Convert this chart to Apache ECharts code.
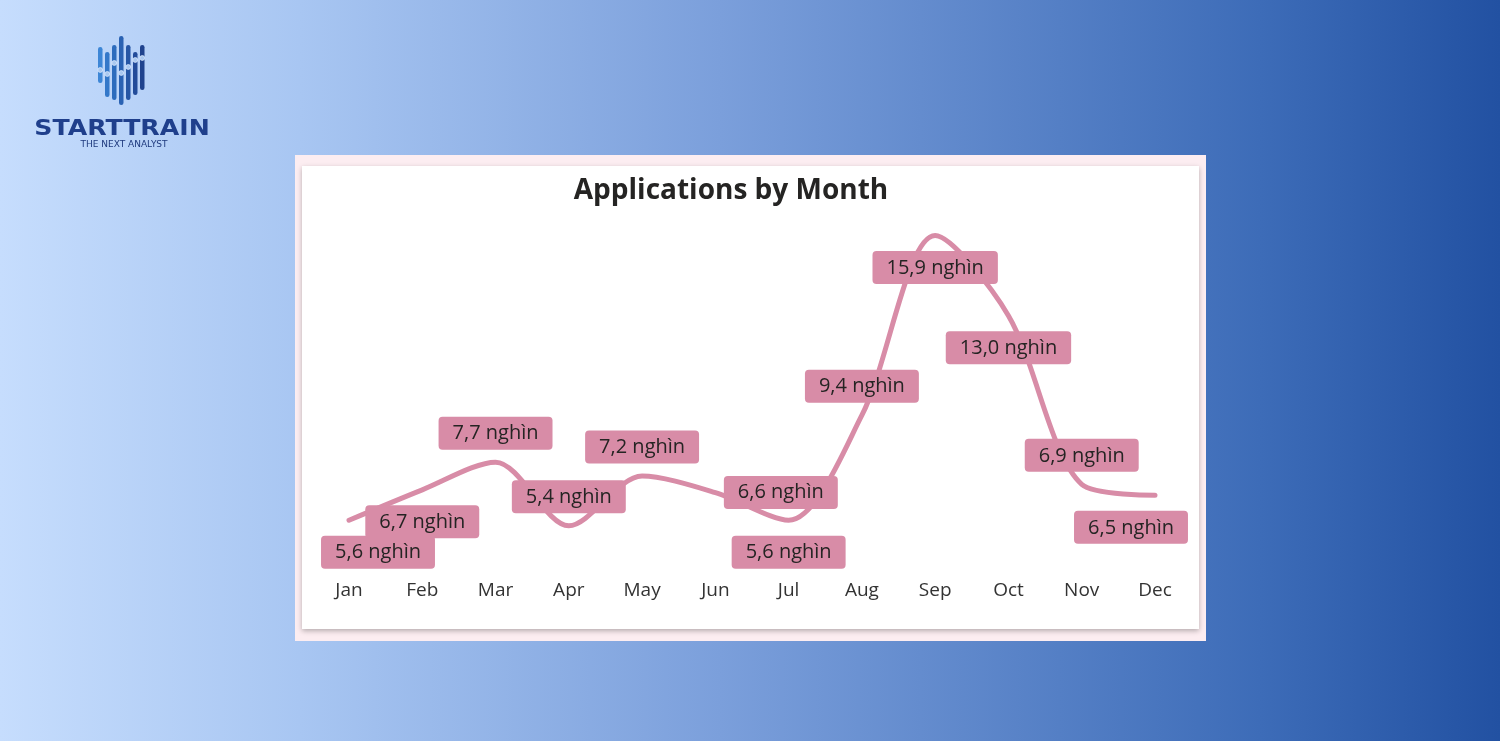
<!DOCTYPE html>
<html>
<head>
<meta charset="utf-8">
<script src="https://cdn.jsdelivr.net/npm/echarts@6/dist/echarts.min.js"></script>
<style>
html,body{margin:0;padding:0;width:1500px;height:741px;overflow:hidden;}
#c{width:1500px;height:741px;}
</style>
</head>
<body>
<div id="c"></div>
<script>
// ---- data ----
const months = ['Jan','Feb','Mar','Apr','May','Jun','Jul','Aug','Sep','Oct','Nov','Dec'];
const applications = [5.6, 6.7, 7.7, 5.4, 7.2, 6.6, 5.6, 9.4, 15.9, 13.0, 6.9, 6.5]; // thousands
const unitSuffix = ' nghìn';
const chartTitle = 'Applications by Month';

// ---- label placement (style config) ----
const labelPlace = [
  ['bottom', 29], ['bottom', 0], ['top', 0], ['top', 0], ['top', 0], ['right', 0],
  ['bottom', 0], ['top', 0], ['bottom', 0], ['bottom', 0], ['top', 0], ['bottom', -24]
];

const pink = '#d88ca7';
const seriesData = applications.map((v, i) => {
  const p = labelPlace[i];
  return {
    value: v,
    label: {
      position: p[0],
      distance: p[0] === 'right' ? 8 : (p[0] === 'top' ? 12 : 15)
    }
  };
});

// logo bars
const logoBars = [
  {x: 98, y1: 47, y2: 83, c: '#3d86d6', d: 70},
  {x: 105, y1: 52, y2: 97, c: '#3478c9', d: 74},
  {x: 112, y1: 45, y2: 100, c: '#2d6cbd', d: 63},
  {x: 119, y1: 36, y2: 105, c: '#2a62b3', d: 73},
  {x: 126, y1: 45, y2: 100, c: '#2656a5', d: 67},
  {x: 133, y1: 52, y2: 95, c: '#234c9a', d: 60},
  {x: 140, y1: 45, y2: 90, c: '#20438e', d: 58}
];
const logoEls = [];
logoBars.forEach(b => {
  logoEls.push({type:'rect', shape:{x:b.x, y:b.y1, width:4.5, height:b.y2-b.y1, r:2.2}, style:{fill:b.c}, z:1});
  logoEls.push({type:'circle', shape:{cx:b.x+2.25, cy:b.d, r:2.4}, style:{fill:'#a9c8f0', stroke:'#dbe9fb', lineWidth:0.8}, z:2});
});

const chart = echarts.init(document.getElementById('c'));
chart.setOption({
  backgroundColor: {
    type: 'linear', x: 0, y: 0, x2: 1, y2: 0,
    colorStops: [
      {offset: 0, color: '#c6ddfd'},
      {offset: 0.2, color: '#a8c6f2'},
      {offset: 0.48, color: '#7b9fdb'},
      {offset: 0.84, color: '#3d6cb8'},
      {offset: 1, color: '#2251a2'}
    ]
  },
  animation: false,
  graphic: [
    {type:'rect', shape:{x:295, y:155, width:911, height:486}, style:{fill:'#fcedf1'}, z:0},
    {type:'rect', shape:{x:302, y:166, width:897, height:463}, style:{fill:'#ffffff', shadowBlur:5, shadowColor:'rgba(0,0,0,0.28)', shadowOffsetY:2}, z:0},
    ...logoEls,
    {type:'text', x:122, y:130, style:{text:'STARTTRAIN', fill:'#1f3f8c', font:'bold 21px "DejaVu Sans"', textAlign:'center', textVerticalAlign:'middle'}, scaleX:1.2, z:2},
    {type:'text', x:124, y:145, style:{text:'THE NEXT ANALYST', fill:'#1f3a7e', font:'9px "DejaVu Sans"', textAlign:'center', textVerticalAlign:'middle'}, z:2},
    {type:'text', x:731, y:191, style:{text:chartTitle, fill:'#252423', font:'bold 28px "Open Sans"', textAlign:'center', textVerticalAlign:'middle'}, z:2}
  ],
  grid: {left: 349, right: 345, top: 230, bottom: 171, containLabel: false},
  xAxis: {
    type: 'category',
    data: months,
    boundaryGap: false,
    axisLine: {show:false},
    axisTick: {show:false},
    splitLine: {show:false},
    axisLabel: {color:'#333333', fontSize:19, fontFamily:'"Open Sans", sans-serif', margin:11}
  },
  yAxis: {
    type: 'value',
    min: 3.8, max: 16.1,
    show: false,
    splitLine: {show:false}
  },
  series: [{
    type: 'line',
    data: seriesData,
    smooth: 0.3,
    symbol: 'circle',
    symbolSize: 1,
    showSymbol: true,
    itemStyle: {color: 'rgba(0,0,0,0)'},
    z: 3,
    lineStyle: {color: pink, width: 5, cap: 'round'},
    labelLayout: p => ({dx: labelPlace[p.dataIndex][1], hideOverlap: false}),
    label: {
      show: true,
      formatter: p => p.value.toFixed(1).replace('.', ',') + unitSuffix,
      color: '#252423',
      fontSize: 20,
      fontFamily: '"Open Sans", sans-serif',
      backgroundColor: pink,
      borderRadius: 4,
      padding: [7, 14, 6, 14]
    }
  }]
});
</script>
</body>
</html>
